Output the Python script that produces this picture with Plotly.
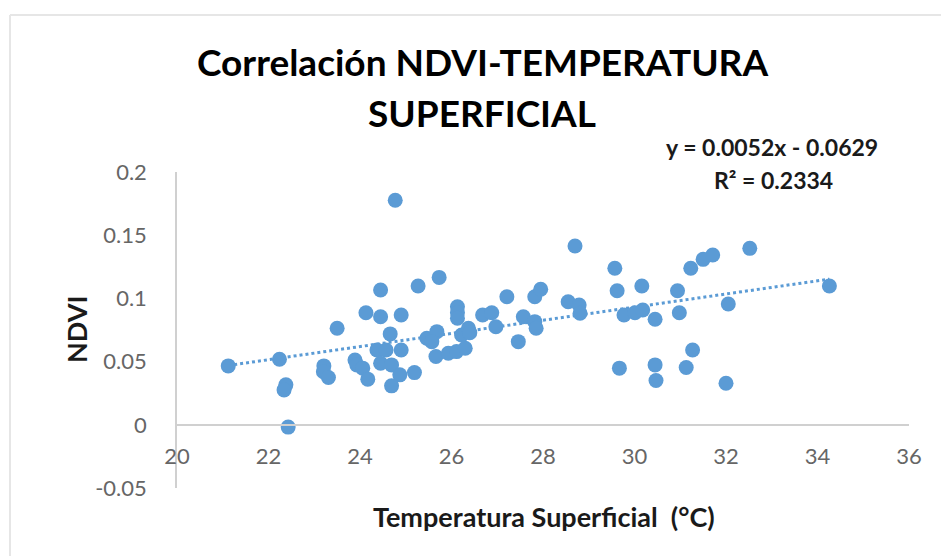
import plotly.graph_objects as go

# Data
temperatura = [21.12, 22.24, 22.38, 22.34, 22.43, 23.21, 23.20, 23.31, 23.50, 24.13,
               24.45, 24.77, 25.27, 24.45, 24.90, 24.66, 23.89, 23.93, 24.06, 24.17,
               24.37, 24.57, 24.45, 24.69, 24.90, 24.87, 24.69, 25.19, 25.46, 25.73,
               25.68, 25.57, 25.66, 25.93, 26.11, 26.30, 26.13, 26.13, 26.13, 26.22,
               26.37, 26.40, 26.68, 26.88, 26.97, 27.21, 27.46, 27.57, 27.82, 27.85,
               27.82, 27.95, 28.55, 28.70, 28.79, 28.81, 29.57, 29.62, 29.67, 29.77,
               30.01, 30.16, 30.18, 30.45, 30.45, 30.47, 30.94, 30.98, 31.13, 31.23,
               31.27, 31.50, 31.71, 32.00, 32.05, 32.52, 34.26]
ndvi = [0.0466, 0.0519, 0.0316, 0.0276, -0.0018, 0.0466, 0.0420, 0.0374, 0.0764, 0.0887,
        0.1066, 0.1777, 0.1098, 0.0855, 0.0869, 0.0719, 0.0513, 0.0474, 0.0448, 0.0361,
        0.0592, 0.0592, 0.0487, 0.0474, 0.0592, 0.0395, 0.0308, 0.0413, 0.0685, 0.1166,
        0.0737, 0.0658, 0.0540, 0.0566, 0.0579, 0.0606, 0.0934, 0.0887, 0.0843, 0.0711,
        0.0764, 0.0729, 0.0869, 0.0887, 0.0776, 0.1013, 0.0658, 0.0855, 0.0816, 0.0764,
        0.1013, 0.1072, 0.0974, 0.1414, 0.0948, 0.0882, 0.1238, 0.1061, 0.0448, 0.0869,
        0.0887, 0.1098, 0.0908, 0.0835, 0.0474, 0.0350, 0.1061, 0.0887, 0.0453, 0.1238,
        0.0592, 0.1309, 0.1343, 0.0329, 0.0956, 0.1396, 0.1098]

# Trendline coefficients as shown on the chart
slope = 0.0052
intercept = -0.0629
x_ticks = [20, 22, 24, 26, 28, 30, 32, 34, 36]
y_ticks = [-0.05, 0, 0.05, 0.1, 0.15, 0.2]
y_tick_text = ["-0.05", "0", "0.05", "0.1", "0.15", "0.2"]

BLUE = "#5B9BD5"
FONT = "Lato"
L, R, T, B = 177, 32, 172, 68
W, H = 941, 556
PW, PH = W - L - R, H - T - B

trend_x = [min(temperatura), max(temperatura)]
trend_y = [slope * v + intercept for v in trend_x]

fig = go.Figure()
fig.add_trace(go.Scatter(x=trend_x, y=trend_y, mode="lines",
                         line=dict(color=BLUE, width=3, dash="dot"),
                         hoverinfo="skip", showlegend=False))
fig.add_trace(go.Scatter(x=temperatura, y=ndvi, mode="markers",
                         marker=dict(color=BLUE, size=15, line=dict(width=0)),
                         showlegend=False))

fig.update_layout(
    width=W, height=H,
    margin=dict(l=L, r=R, t=T, b=B),
    paper_bgcolor="white", plot_bgcolor="white",
    font=dict(family=FONT, color="#595959"),
    xaxis=dict(range=[20, 36], tickvals=x_ticks, showgrid=False, zeroline=False,
               showline=True, linecolor="#D0D0D0", linewidth=1.5,
               anchor="free", position=0.2, ticks="",
               tickfont=dict(family=FONT, size=22, color="#666666"),
               ticklabelstandoff=12, fixedrange=True),
    yaxis=dict(range=[-0.05, 0.2], tickvals=y_ticks, ticktext=y_tick_text,
               showgrid=False, zeroline=False,
               showline=True, linecolor="#D0D0D0", linewidth=1.5, ticks="",
               tickfont=dict(family=FONT, size=22, color="#666666"),
               ticklabelstandoff=24, fixedrange=True),
)

def px_to_paper(px, py):
    return (px - L) / PW, (H - B - py) / PH

# Outer frame (left and top edges visible)
fx0, fy0 = px_to_paper(10, 15)
fx1, fy1 = px_to_paper(945, 560)
fig.add_shape(type="line", xref="paper", yref="paper", x0=fx0, x1=fx1, y0=fy0, y1=fy0,
              line=dict(color="#E6E6E6", width=2))
fig.add_shape(type="line", xref="paper", yref="paper", x0=fx0, x1=fx0, y0=fy1, y1=fy0,
              line=dict(color="#E6E6E6", width=2))

annots = [
    ("<b>Correlación NDVI-TEMPERATURA</b>", 482, 62, 37, "#000000"),
    ("<b>SUPERFICIAL</b>", 482, 112, 37, "#000000"),
    ("<b>y = 0.0052x - 0.0629</b>", 772, 147, 23, "#1a1a1a"),
    ("<b>R² = 0.2334</b>", 773, 180, 23, "#1a1a1a"),
    ("<b>Temperatura Superficial  (°C)</b>", 544, 516, 27, "#1a1a1a"),
]
for text, px, py, size, color in annots:
    xp, yp = px_to_paper(px, py)
    fig.add_annotation(text=text, x=xp, y=yp, xref="paper", yref="paper",
                       xanchor="center", yanchor="middle", showarrow=False,
                       font=dict(family=FONT, size=size, color=color))

xp, yp = px_to_paper(76, 330)
fig.add_annotation(text="<b>NDVI</b>", x=xp, y=yp, xref="paper", yref="paper",
                   xanchor="center", yanchor="middle", showarrow=False, textangle=-90,
                   font=dict(family=FONT, size=27, color="#1a1a1a"))

fig.write_html("out.html", config={"displayModeBar": False},
               post_script="document.body.style.margin='0px';document.body.style.overflow='hidden';")
